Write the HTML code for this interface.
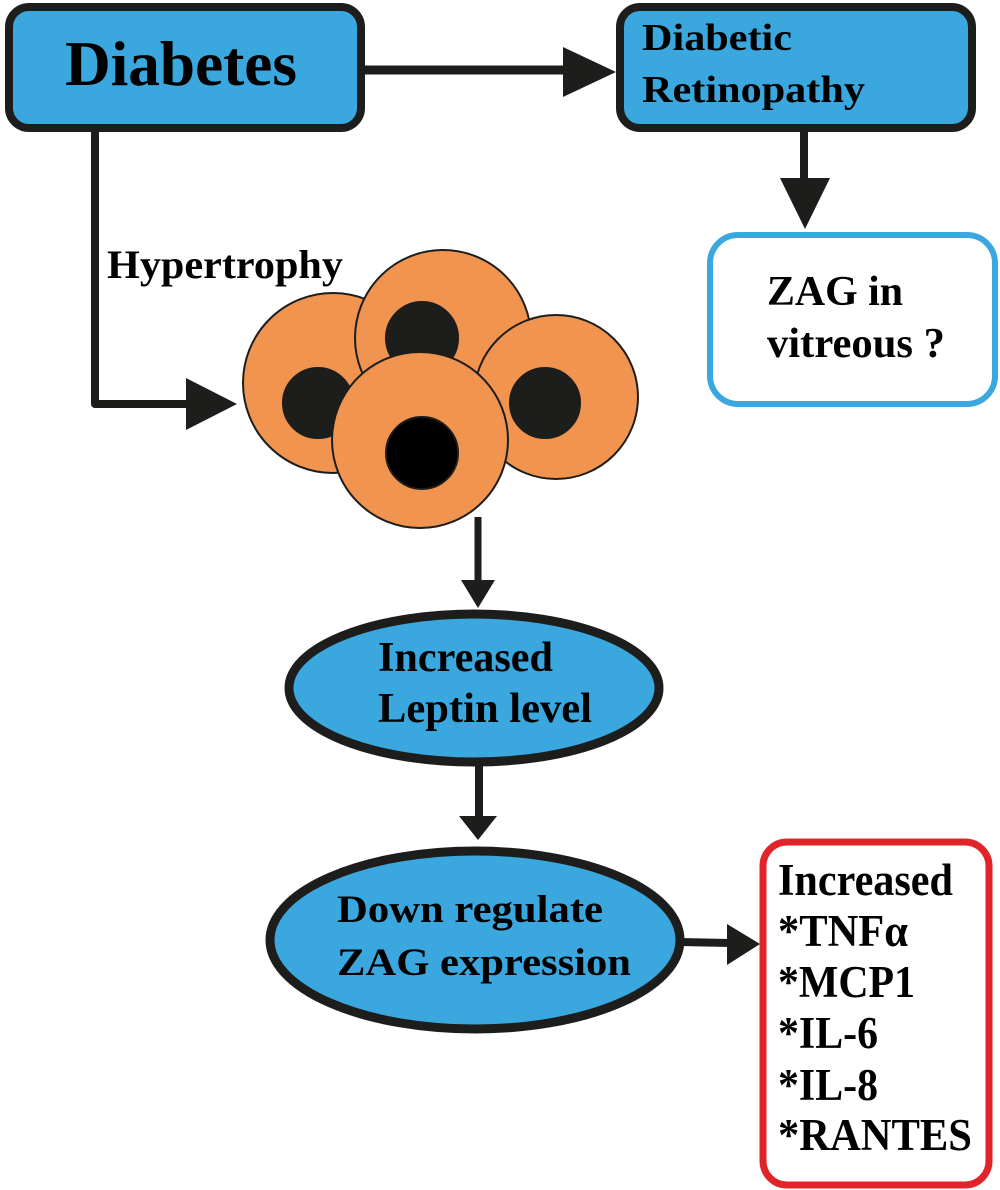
<!DOCTYPE html>
<html><head><meta charset="utf-8"><style>html,body{margin:0;padding:0;background:#fff}svg{display:block}</style></head>
<body>
<svg width="1000" height="1190" viewBox="0 0 1000 1190" xmlns="http://www.w3.org/2000/svg" font-family="'Liberation Serif', serif" font-weight="bold">
<rect x="9" y="7" width="352" height="121" rx="20" fill="#3aa8df" stroke="#1d1d1b" stroke-width="8"/>
<rect x="620" y="7" width="352" height="121" rx="20" fill="#3aa8df" stroke="#1d1d1b" stroke-width="8"/>
<rect x="710" y="235" width="285" height="169" rx="28" fill="#fff" stroke="#3aa8df" stroke-width="6"/>
<rect x="763" y="842" width="226" height="343" rx="24" fill="#fff" stroke="#e0242a" stroke-width="7"/>
<g fill="#1d1d1b" stroke="#1d1d1b">
<line x1="361" y1="70" x2="570" y2="70" stroke-width="9"/>
<polygon points="563,47 616,72 563,97" stroke="none"/>
<line x1="804" y1="128" x2="804" y2="182" stroke-width="8"/>
<polygon points="780,178 830,178 805,229" stroke="none"/>
<polyline points="95,130 95,404 190,404" fill="none" stroke-width="8" stroke-linejoin="round"/>
<polygon points="186,378 237,404 186,430" stroke="none"/>
<line x1="478" y1="517" x2="478" y2="584" stroke-width="7"/>
<polygon points="461,580 495,580 478,608" stroke="none"/>
<line x1="479" y1="765" x2="479" y2="820" stroke-width="8"/>
<polygon points="459,816 497,816 478,840" stroke="none"/>
<line x1="680" y1="942" x2="730" y2="943" stroke-width="8"/>
<polygon points="727,924 760,944 727,965" stroke="none"/>
</g>
<g stroke="#1d1d1b" stroke-width="2">
<circle cx="333" cy="383" r="90" fill="#f0944f"/>
<circle cx="318" cy="403" r="35" fill="#1d1d1b"/>
<circle cx="443" cy="338" r="88" fill="#f0944f"/>
<circle cx="422" cy="338" r="36" fill="#1d1d1b"/>
<circle cx="556" cy="397" r="82" fill="#f0944f"/>
<circle cx="545" cy="403" r="35" fill="#1d1d1b"/>
<circle cx="420" cy="440" r="88" fill="#f0944f"/>
<circle cx="422" cy="453" r="36" fill="#000"/>
</g>
<ellipse cx="474" cy="688" rx="185" ry="74" fill="#3aa8df" stroke="#1d1d1b" stroke-width="9"/>
<ellipse cx="475" cy="940" rx="205" ry="89" fill="#3aa8df" stroke="#1d1d1b" stroke-width="9"/>
<g fill="#000">
<text x="65" y="85" font-size="64" textLength="232" lengthAdjust="spacingAndGlyphs">Diabetes</text>
<text x="642" y="50" font-size="38" textLength="150" lengthAdjust="spacingAndGlyphs">Diabetic</text>
<text x="642" y="102" font-size="38" textLength="223" lengthAdjust="spacingAndGlyphs">Retinopathy</text>
<text x="107" y="278" font-size="40" textLength="236" lengthAdjust="spacingAndGlyphs">Hypertrophy</text>
<text x="767" y="305" font-size="42" textLength="136" lengthAdjust="spacingAndGlyphs">ZAG in</text>
<text x="767" y="357" font-size="42" textLength="178" lengthAdjust="spacingAndGlyphs">vitreous ?</text>
<text x="378" y="671" font-size="42" textLength="175" lengthAdjust="spacingAndGlyphs">Increased</text>
<text x="378" y="722" font-size="42" textLength="214" lengthAdjust="spacingAndGlyphs">Leptin level</text>
<text x="337" y="922" font-size="39" textLength="266" lengthAdjust="spacingAndGlyphs">Down regulate</text>
<text x="337" y="975" font-size="39" textLength="294" lengthAdjust="spacingAndGlyphs">ZAG expression</text>
<text x="778" y="895" font-size="45" textLength="175" lengthAdjust="spacingAndGlyphs">Increased</text>
<text x="778" y="946" font-size="45" textLength="130" lengthAdjust="spacingAndGlyphs">*TNFα</text>
<text x="778" y="997" font-size="45" textLength="137" lengthAdjust="spacingAndGlyphs">*MCP1</text>
<text x="778" y="1048" font-size="45" textLength="100" lengthAdjust="spacingAndGlyphs">*IL-6</text>
<text x="778" y="1100" font-size="45" textLength="100" lengthAdjust="spacingAndGlyphs">*IL-8</text>
<text x="778" y="1150" font-size="45" textLength="194" lengthAdjust="spacingAndGlyphs">*RANTES</text>
</g>
</svg>
</body></html>
